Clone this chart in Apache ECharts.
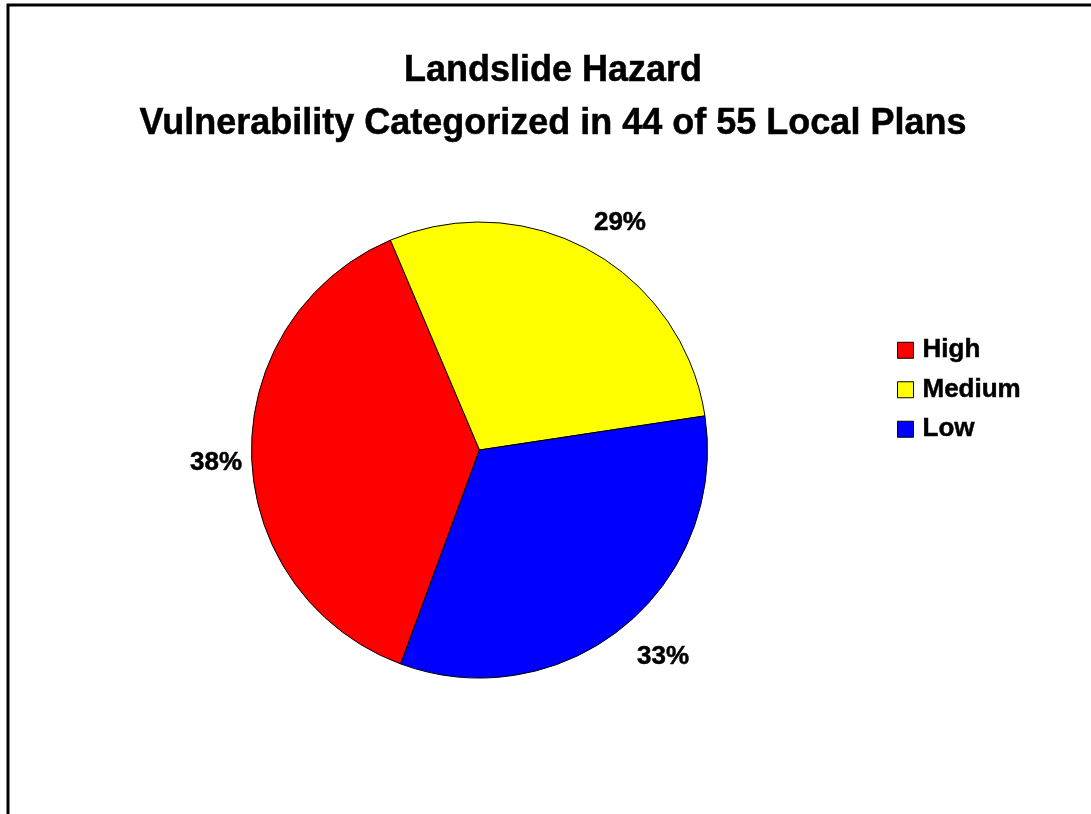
<!DOCTYPE html>
<html>
<head>
<meta charset="utf-8">
<script src="https://cdn.jsdelivr.net/npm/echarts@6/dist/echarts.min.js"></script>
<style>
  html, body { margin: 0; padding: 0; background: #fff; }
  #chart { width: 1091px; height: 814px; }
</style>
</head>
<body>
<div id="chart"></div>
<script>
// Share of local plans by landslide vulnerability level (percent)
const categories = ['High', 'Medium', 'Low'];
const shares = [38, 29, 33];
const sliceColors = ['#FF0000', '#FFFF00', '#0000FF'];
const titleLines = ['Landslide Hazard', 'Vulnerability Categorized in 44 of 55 Local Plans'];

// Per-slice label placement outside the pie (label line is hidden)
const labelLineLength = [4.5, 32.6, 38.5];
const labelLineLength2 = [0, -17.7, -15.9];
const labelShiftY = [7, 0, 0];

const FONT = 'Arial, "Liberation Sans", Helvetica, sans-serif';
// a hairline outline gives the heavier bold look of the printed labels
const heavy = { textBorderColor: '#000', textBorderWidth: 0.5 };

const chart = echarts.init(document.getElementById('chart'), null, { renderer: 'canvas' });

chart.setOption({
  backgroundColor: '#ffffff',
  animation: false,
  title: {
    text: titleLines.join('\n'),
    left: 548,
    top: 40,
    textAlign: 'center',
    textStyle: Object.assign({
      fontFamily: FONT,
      fontWeight: 'bold',
      fontSize: 36,
      lineHeight: 52.5,
      color: '#000'
    }, heavy)
  },
  legend: {
    orient: 'vertical',
    left: 897,
    top: 337,
    padding: 0,
    icon: 'rect',
    itemWidth: 16,
    itemHeight: 16,
    itemGap: 13,
    data: categories,
    itemStyle: { borderColor: '#000', borderWidth: 1 },
    textStyle: Object.assign({
      fontFamily: FONT,
      fontWeight: 'bold',
      fontSize: 26,
      color: '#000',
      padding: [0, 0, 0, 4]
    }, heavy)
  },
  graphic: [
    {
      type: 'rect',
      silent: true,
      shape: { x: 8, y: 5, width: 1300, height: 1000 },
      style: { fill: 'none', stroke: '#000', lineWidth: 3 }
    }
  ],
  series: [
    {
      type: 'pie',
      center: [479.5, 450],
      radius: 228,
      startAngle: 249.8,
      clockwise: true,
      avoidLabelOverlap: false,
      itemStyle: { borderColor: '#000', borderWidth: 1 },
      emphasis: { disabled: true },
      label: Object.assign({
        show: true,
        position: 'outside',
        formatter: '{d}%',
        fontFamily: FONT,
        fontWeight: 'bold',
        fontSize: 26,
        color: '#000'
      }, heavy),
      labelLine: { show: false },
      labelLayout: function (p) {
        return { dy: labelShiftY[p.dataIndex] };
      },
      data: categories.map((name, i) => ({
        name: name,
        value: shares[i],
        itemStyle: { color: sliceColors[i] },
        labelLine: { show: false, length: labelLineLength[i], length2: labelLineLength2[i] }
      }))
    }
  ]
});
</script>
</body>
</html>
